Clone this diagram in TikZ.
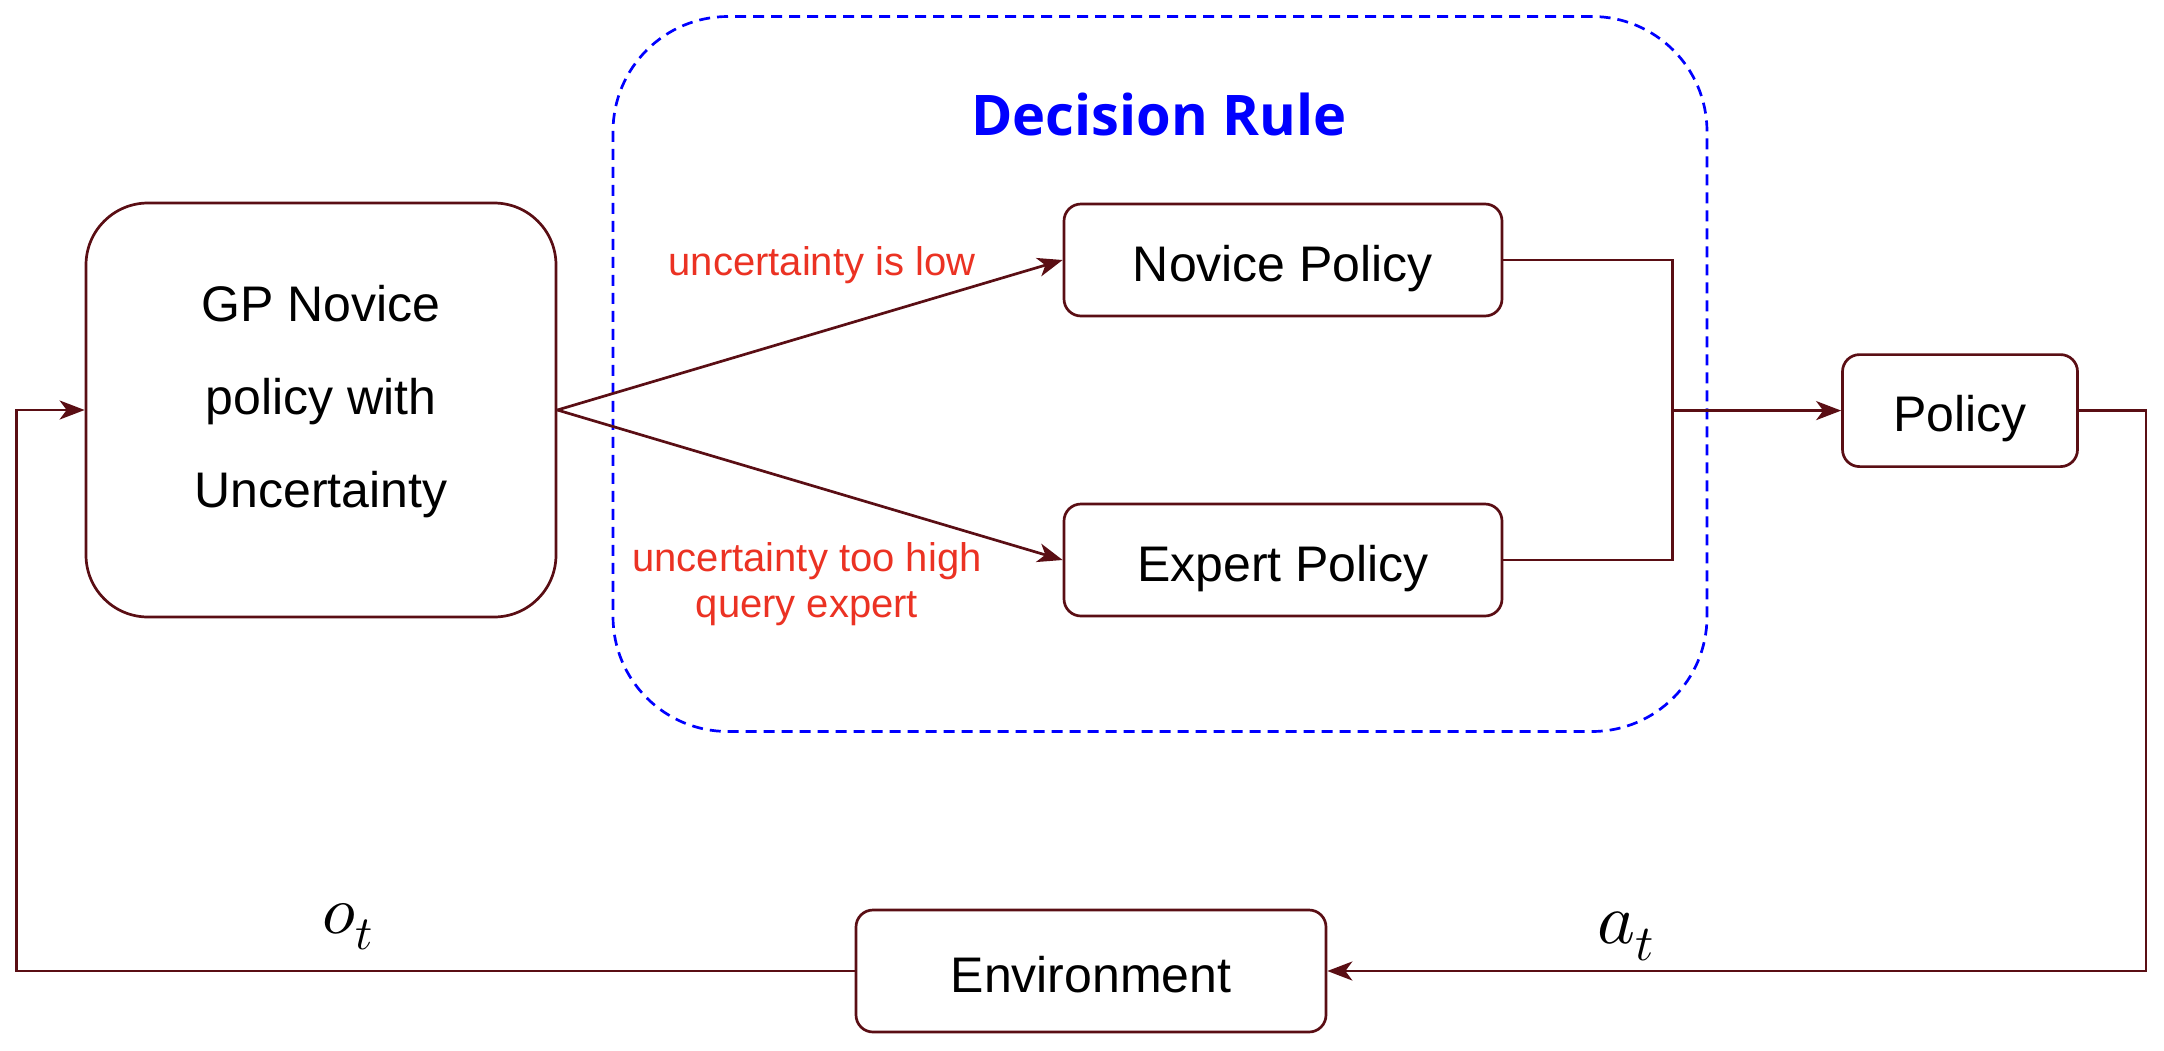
\documentclass[tikz,border=0pt]{standalone}
\usepackage{fontspec}
\usepackage{unicode-math}
\setmainfont{Liberation Sans}
\setmathfont{Latin Modern Math}
\newfontfamily\titlefont{Open Sans}
\usetikzlibrary{arrows.meta}
\definecolor{linec}{RGB}{90,14,20}
\definecolor{redtxt}{RGB}{235,50,35}
\begin{document}
\begin{tikzpicture}[x=1pt,y=-1pt,
  box/.style={draw=linec, line width=2.7pt, rounded corners=17pt, font=\fontsize{50}{60}\selectfont, inner sep=0pt, align=center, text height=42pt, text depth=0pt},
  conn/.style={draw=linec, line width=2.7pt},
  arr/.style={conn, -{Stealth[length=25pt,width=19pt,inset=7pt]}},
  lbl/.style={text=redtxt, font=\fontsize{40}{46}\selectfont, align=center, inner sep=0pt},
  mathlbl/.style={anchor=base west, inner sep=0pt}]
\useasboundingbox (0,0) rectangle (2164,1050);
\node[draw=blue, line width=2.7pt, dash pattern=on 11pt off 7pt, rounded corners=115pt,
      minimum width=1094pt, minimum height=715pt, inner sep=0pt] (rule) at (1160,374) {};
\node[box, rounded corners=62pt, minimum width=470pt, minimum height=414pt, font=\fontsize{50}{93}\selectfont, text height=, text depth=27pt] (gp) at (321,410) {GP Novice\\policy with\\Uncertainty};
\node[box, minimum width=438pt, minimum height=112pt] (nov) at (1283,260) {Novice Policy};
\node[box, minimum width=438pt, minimum height=112pt] (exp) at (1283,560) {Expert Policy};
\node[box, minimum width=235pt, minimum height=112pt] (pol) at (1960,410.6) {Policy};
\node[box, minimum width=470pt, minimum height=122pt] (env) at (1091,971) {Environment};
\node[text=blue, inner sep=0pt, font=\titlefont\bfseries\fontsize{56}{60}\selectfont] (title) at (1159,114) {Decision Rule};
\node[lbl] (low) at (822,265) {uncertainty is low};
\node[lbl] (high) at (807,584) {uncertainty too high\\query expert};
\node[mathlbl, font=\fontsize{68}{70}\selectfont] (ot) at (322,933) {$o_t$};
\node[mathlbl, font=\fontsize{72}{74}\selectfont] (at) at (1597,943) {$a_t$};
\draw[arr] (gp.east) -- (nov.west);
\draw[arr] (gp.east) -- (exp.west);
\coordinate (j) at (1672.6,410.6);
\draw[conn] (nov.east) -| (j);
\draw[conn] (exp.east) -| (j);
\draw[arr] (j) -- (pol.west);
\coordinate (r) at (2146,971);
\draw[arr] (pol.east) -| (r) -- (env.east);
\coordinate (l) at (16.6,971);
\draw[arr] (env.west) -- (l) |- (gp.west);
\end{tikzpicture}
\end{document}
